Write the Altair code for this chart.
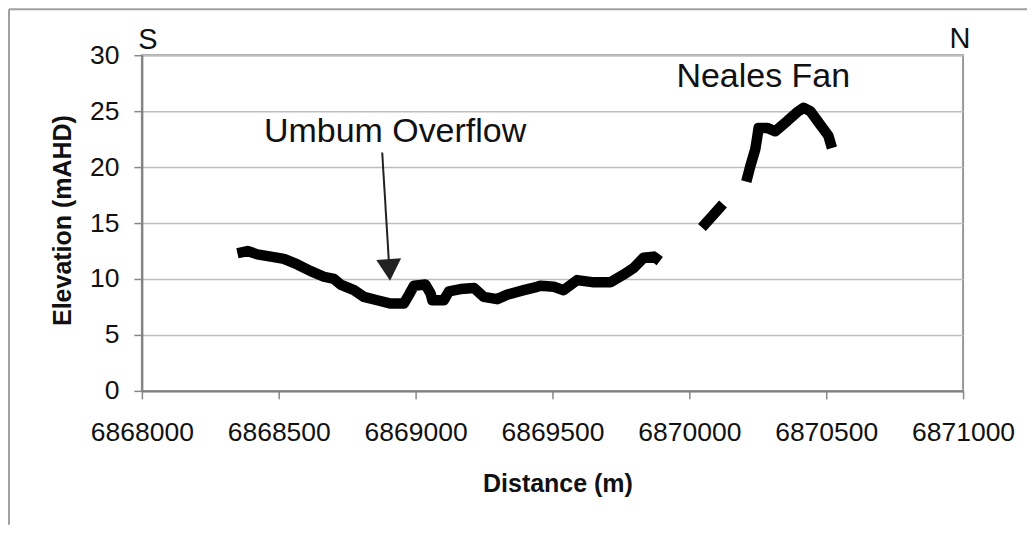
import altair as alt
import pandas as pd

# Profile points (distance m, elevation mAHD), three separate runs
seg1_x = [6868349, 6868386, 6868422, 6868471, 6868519, 6868568, 6868617, 6868665, 6868702,
          6868726, 6868775, 6868811, 6868860, 6868909, 6868957, 6868976, 6868994, 6869036,
          6869055, 6869061, 6869103, 6869122, 6869164, 6869213, 6869249, 6869298, 6869335,
          6869395, 6869444, 6869456, 6869505, 6869541, 6869590, 6869651, 6869712, 6869760,
          6869797, 6869833, 6869870, 6869892]
seg1_y = [12.3, 12.5, 12.2, 12.0, 11.8, 11.3, 10.7, 10.2, 10.0,
          9.5, 9.0, 8.4, 8.1, 7.8, 7.8, 8.6, 9.4, 9.5,
          8.7, 8.1, 8.1, 8.9, 9.1, 9.2, 8.4, 8.2, 8.6,
          9.0, 9.3, 9.4, 9.3, 9.0, 9.9, 9.7, 9.7, 10.4,
          11.0, 11.9, 12.0, 11.6]
seg2_x = [6870046, 6870083, 6870123]
seg2_y = [14.6, 15.6, 16.7]
seg3_x = [6870208, 6870223, 6870241, 6870247, 6870253, 6870284, 6870314, 6870357, 6870393,
          6870417, 6870442, 6870478, 6870508, 6870521]
seg3_y = [18.7, 20.1, 21.6, 22.5, 23.5, 23.5, 23.2, 24.1, 24.9,
          25.3, 25.0, 23.8, 22.8, 21.7]

x_ticks = [6868000, 6868500, 6869000, 6869500, 6870000, 6870500, 6871000]
y_ticks = [0, 5, 10, 15, 20, 25, 30]

# annotations
notes_text = ["Umbum Overflow", "Neales Fan"]
notes_x = [6868925, 6870270]
notes_y = [22.2, 27.15]
dir_text = ["S", "N"]
dir_x = [6868022, 6870989]
dir_y = [30.56, 30.65]
arrow_start = (6868878, 21.3)
arrow_end = (6868906, 10.1)

FONT = "Liberation Sans"

rows = []
for sid, xs, ys in [(1, seg1_x, seg1_y), (2, seg2_x, seg2_y), (3, seg3_x, seg3_y)]:
    for i, (a, b) in enumerate(zip(xs, ys)):
        rows.append({"seg": sid, "order": i, "dist": a, "elev": b})
df = pd.DataFrame(rows)

xscale = alt.Scale(domain=[6868000, 6871000], nice=False, zero=False)
yscale = alt.Scale(domain=[0, 30], nice=False)

x_enc = alt.X("dist:Q", scale=xscale, axis=alt.Axis(
    title="Distance (m)", values=x_ticks, format="d", grid=False,
    labelOverlap=False, labelFlush=False, labelBound=False,
    labelFontSize=26.5, labelFont=FONT, labelColor="#111", labelPadding=21,
    tickSize=8, tickColor="#888", tickWidth=1.5,
    domainColor="#808080", domainWidth=2,
    titleFont=FONT, titleFontSize=25, titleFontWeight="bold", titleColor="#111",
    titleX=416, titleY=93, titleBaseline="middle", titleAlign="center"))
y_enc = alt.Y("elev:Q", scale=yscale, axis=alt.Axis(
    title="Elevation (mAHD)", values=y_ticks, grid=True,
    labelFlush=False, labelOverlap=False,
    gridColor="#bdbdbd", gridWidth=1.5,
    labelFontSize=26.5, labelFont=FONT, labelColor="#111", labelPadding=15,
    tickSize=8, tickColor="#888", tickWidth=1.5,
    domainColor="#808080", domainWidth=2,
    titleFont=FONT, titleFontSize=25, titleFontWeight="bold", titleColor="#111",
    titleX=-79, titleY=165, titleAngle=270, titleBaseline="middle", titleAlign="center"))

profile = alt.Chart(df).mark_line(
    color="black", strokeWidth=10.5, strokeCap="butt", strokeJoin="round"
).encode(x=x_enc, y=y_enc, detail="seg:N", order="order:Q")

notes_df = pd.DataFrame({"t": notes_text, "x": notes_x, "y": notes_y})
notes = alt.Chart(notes_df).mark_text(
    font=FONT, fontSize=34, color="#111", align="center", baseline="alphabetic"
).encode(x=alt.X("x:Q", scale=xscale), y=alt.Y("y:Q", scale=yscale), text="t:N")

dir_df = pd.DataFrame({"t": dir_text, "x": dir_x, "y": dir_y})
dirs = alt.Chart(dir_df).mark_text(
    font=FONT, fontSize=29, color="#111", align="center", baseline="alphabetic"
).encode(x=alt.X("x:Q", scale=xscale), y=alt.Y("y:Q", scale=yscale), text="t:N")

arrow_df = pd.DataFrame({"x": [arrow_start[0]], "y": [arrow_start[1]],
                         "x2": [arrow_end[0]], "y2": [arrow_end[1]]})
arrow_line = alt.Chart(arrow_df).mark_rule(color="#222", strokeWidth=2).encode(
    x=alt.X("x:Q", scale=xscale), y=alt.Y("y:Q", scale=yscale), x2="x2:Q", y2="y2:Q")
arrow_head = alt.Chart(arrow_df).mark_point(
    shape="triangle-down", filled=True, color="#222", size=620, opacity=1,
    angle=356.5, yOffset=-8, xOffset=-0.5
).encode(x=alt.X("x2:Q", scale=xscale), y=alt.Y("y2:Q", scale=yscale))

one = alt.Data(values=[{"k": 1}])
frame_left = alt.Chart(one).mark_rule(color="#a0a0a0", strokeWidth=2).encode(
    x=alt.value(-133), y=alt.value(-46), y2=alt.value(470))
frame_top = alt.Chart(one).mark_rule(color="#a0a0a0", strokeWidth=2).encode(
    x=alt.value(-133), x2=alt.value(886), y=alt.value(-46))

chart = alt.layer(
    frame_left, frame_top, profile, arrow_line, arrow_head, notes, dirs
).properties(
    width=822, height=336, padding=0, background="white"
).configure_view(stroke="#999", strokeWidth=2)

chart.save("out.html", embed_options={"renderer": "svg", "actions": False})
